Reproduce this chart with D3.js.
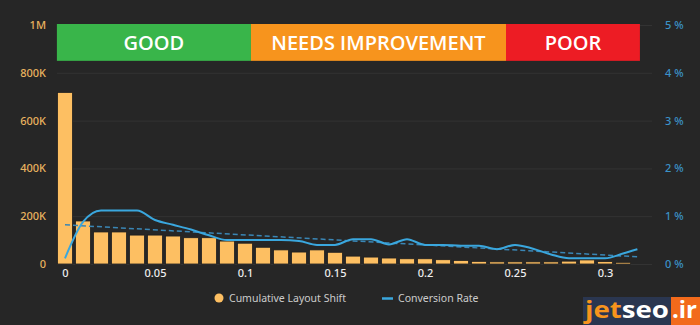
<!DOCTYPE html>
<html><head><meta charset="utf-8">
<script src="https://cdn.jsdelivr.net/npm/d3@7"></script>
<style>
html,body{margin:0;padding:0;background:#262626;}
svg{display:block;}
</style></head>
<body>
<svg id="c" width="700" height="325"></svg>
<script>
// ---- data ----
const clsBuckets = [0,0.01,0.02,0.03,0.04,0.05,0.06,0.07,0.08,0.09,0.10,0.11,0.12,0.13,0.14,0.15,0.16,0.17,0.18,0.19,0.20,0.21,0.22,0.23,0.24,0.25,0.26,0.27,0.28,0.29,0.30,0.31];
const sessions = [718000,180000,134000,134000,121000,121000,117000,110000,110000,96000,87000,70000,59000,50000,59000,49000,33000,29000,25000,22000,22000,18000,15000,11000,9000,9000,9000,9000,12000,17000,10000,7000];
const convX = [0,0.01,0.02,0.03,0.04,0.05,0.06,0.07,0.08,0.09,0.10,0.11,0.12,0.13,0.14,0.15,0.16,0.17,0.18,0.19,0.20,0.21,0.22,0.23,0.24,0.25,0.26,0.27,0.28,0.29,0.30,0.31,0.318];
const convRate = [0.12,0.88,1.12,1.12,1.12,0.92,0.82,0.72,0.6,0.5,0.5,0.5,0.5,0.48,0.4,0.4,0.52,0.52,0.41,0.52,0.4,0.4,0.38,0.38,0.31,0.40,0.32,0.2,0.12,0.12,0.12,0.22,0.31];
const trendX = [0,0.318];
const trendY = [0.82,0.15];
const bandNames = ["GOOD","NEEDS IMPROVEMENT","POOR"];
const bandStart = [-0.0045,0.1033,0.245];
const bandEnd = [0.1033,0.245,0.3194];
const bandColors = ["#39b54a","#f7941d","#ed1c24"];
const leftTicks = [0,200000,400000,600000,800000,1000000];
const leftLabels = ["0","200K","400K","600K","800K","1M"];
const rightTicks = [0,1,2,3,4,5];
const xTicks = [0,0.05,0.1,0.15,0.2,0.25,0.3];
const xLabels = ["0","0.05","0.1","0.15","0.2","0.25","0.3"];

// ---- scales ----
const svg = d3.select("#c");
const x = d3.scaleLinear().domain([0,0.3]).range([65,605]);
const yL = d3.scaleLinear().domain([0,1000000]).range([264,25]);
const yR = d3.scaleLinear().domain([0,5]).range([264,25]);
const plotL = 57, plotR = 652;
const font = "'Noto Sans', sans-serif";

// grid
svg.append("g").selectAll("line").data(leftTicks).join("line")
  .attr("x1",plotL).attr("x2",plotR)
  .attr("y1",d=>yL(d)+0.5).attr("y2",d=>yL(d)+0.5)
  .attr("stroke","#333333").attr("stroke-width",1);

// bands
const bands = svg.append("g");
bandNames.forEach((n,i)=>{
  bands.append("rect").attr("x",x(bandStart[i])).attr("y",yL(1000000)-1)
    .attr("width",x(bandEnd[i])-x(bandStart[i])).attr("height",yL(850000)-yL(1000000)+1)
    .attr("fill",bandColors[i]);
  bands.append("text").attr("x",(x(bandStart[i])+x(bandEnd[i]))/2).attr("y",(yL(1000000)+yL(850000))/2+7)
    .attr("text-anchor","middle").attr("fill","#ffffff")
    .attr("font-family","'Open Sans', sans-serif").attr("font-weight",600).attr("font-size",20)
    .text(n);
});

// bars
svg.append("g").selectAll("rect").data(clsBuckets).join("rect")
  .attr("x",(d)=>x(d)-7.5).attr("width",15)
  .attr("y",(d,i)=>yL(sessions[i])).attr("height",(d,i)=>yL(0)-yL(sessions[i]))
  .attr("fill","#fdbf62").attr("stroke","#1e1e1e").attr("stroke-width",0.8);

// trend line
svg.append("path").datum(trendX.map((v,i)=>[v,trendY[i]]))
  .attr("d",d3.line().x(d=>x(d[0])).y(d=>yR(d[1])))
  .attr("fill","none").attr("stroke","#3a86b5").attr("stroke-width",1.5).attr("stroke-dasharray","5,3");

// conversion line
svg.append("path").datum(convX.map((v,i)=>[v,convRate[i]]))
  .attr("d",d3.line().x(d=>x(d[0])).y(d=>yR(d[1])).curve(d3.curveMonotoneX))
  .attr("fill","none").attr("stroke","#3aa7de").attr("stroke-width",2);

// axes
const axL = svg.append("g").attr("transform","translate(46,0)")
  .call(d3.axisLeft(yL).tickValues(leftTicks).tickFormat((d,i)=>leftLabels[i]).tickSize(0).tickPadding(0));
axL.select(".domain").remove();
axL.selectAll("text").attr("fill","#e9b35f").attr("font-family",font).attr("font-size",11).attr("font-weight",500);

const axR = svg.append("g").attr("transform","translate(665,0)")
  .call(d3.axisRight(yR).tickValues(rightTicks).tickFormat(d=>d+" %").tickSize(0).tickPadding(0));
axR.select(".domain").remove();
axR.selectAll("text").attr("fill","#3b92c8").attr("font-family",font).attr("font-size",11).attr("font-weight",500);

const axB = svg.append("g").attr("transform","translate(0,269)")
  .call(d3.axisBottom(x).tickValues(xTicks).tickFormat((d,i)=>xLabels[i]).tickSize(0).tickPadding(0));
axB.select(".domain").remove();
axB.selectAll("text").attr("fill","#eeeeee").attr("font-family",font).attr("font-size",11).attr("font-weight",500);

// legend
const lg = svg.append("g").attr("font-family",font).attr("font-size",10.5).attr("fill","#cccccc");
lg.append("circle").attr("cx",219).attr("cy",298).attr("r",4.5).attr("fill","#fdbf62");
lg.append("text").attr("x",229).attr("y",302).text("Cumulative Layout Shift");
lg.append("line").attr("x1",382).attr("x2",393).attr("y1",298.5).attr("y2",298.5).attr("stroke","#3aa7de").attr("stroke-width",2.5);
lg.append("text").attr("x",398).attr("y",302).text("Conversion Rate");

// watermark
const wm = svg.append("g");
wm.append("rect").attr("x",583).attr("y",297).attr("width",88).attr("height",28).attr("fill","#2a3650");
wm.append("rect").attr("x",671).attr("y",297).attr("width",29).attr("height",28).attr("fill","#f26a1b");
const wt = wm.append("text").attr("x",585).attr("y",318).attr("font-family","'Open Sans', sans-serif").attr("font-weight",700).attr("font-size",23)
  .attr("textLength",84).attr("lengthAdjust","spacingAndGlyphs");
wt.append("tspan").attr("fill","#f7941d").text("jet");
wt.append("tspan").attr("fill","#ffffff").text("seo");
wm.append("text").attr("x",672).attr("y",318).attr("font-family","'Open Sans', sans-serif").attr("font-weight",700).attr("font-size",23)
  .attr("textLength",25).attr("lengthAdjust","spacingAndGlyphs").attr("fill","#ffffff").text(".ir");
</script>
</body></html>
